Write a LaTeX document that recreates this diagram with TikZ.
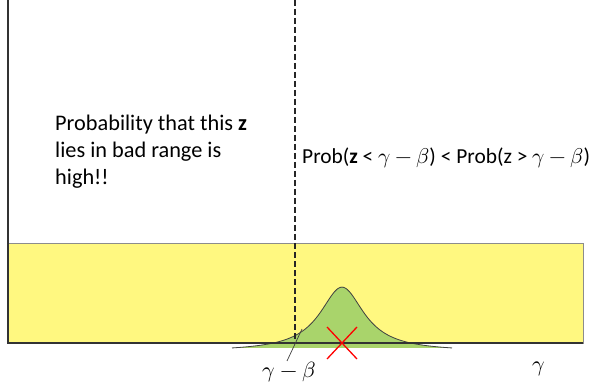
\documentclass[tikz,border=0pt]{standalone}
\usepackage{fontspec}
\setmainfont{Carlito}
\usepackage{unicode-math}
\usetikzlibrary{calc}
\begin{document}
\begin{tikzpicture}[x=1pt,y=-1pt,
  axis/.style={draw=black!80,line width=1.6pt},
  lbl/.style={inner sep=0pt,font=\fontsize{22.3}{27}\selectfont},
  band/.style={fill=yellow!50!white,draw=black!45,line width=1pt},
  curve/.style={draw=black!75,line width=0.8pt},
  cross/.style={draw=red,line width=1.3pt}]
\useasboundingbox (0,0) rectangle (591,387);
\fill[white] (0,0) rectangle (591,387);
% yellow band
\path[band] (8,244) rectangle (583,343);
% gaussian
\path[fill={rgb,255:red,169;green,212;blue,107}]
  plot[domain=232:452,samples=121,smooth] (\x,{348-64.5*(1/(1+((\x-342)/27)^2)-0.056)}) -- cycle;
\draw[curve] plot[domain=232:452,samples=121,smooth] (\x,{348-64.5*(1/(1+((\x-342)/27)^2)-0.056)});
% dashed line
\coordinate (dtop) at (295,0);
\coordinate (dbot) at (295,343);
\draw[dashed,dash pattern=on 6pt off 3pt,line width=1.2pt,black!85] (dtop) -- (dbot);
% axes
\coordinate (o) at (8,343);
\coordinate (ytop) at (8,0);
\coordinate (xend) at (583,343);
\draw[axis] (ytop) -- (o) -- (xend);
% red cross
\coordinate (xc) at (342,343);
\draw[cross] ($(xc)+(-15,-16)$) -- ($(xc)+(15,16)$);
\draw[cross] ($(xc)+(-15,16)$) -- ($(xc)+(15,-16)$);
% labels
\node[lbl,anchor=north west,align=left] (txt) at (55,115) {Probability that this \textbf{z}\\lies in bad range is\\high!!};
\node[lbl,anchor=west,font=\fontsize{21.4}{27}\selectfont] (prob) at (302,158) {Prob(\textbf{z} < $\gamma-\beta$) < Prob(z > $\gamma-\beta$)};
\node[lbl,font=\fontsize{22}{26}\selectfont] (gb) at (289,372) {$\gamma-\beta$};
\node[lbl,font=\fontsize{22}{26}\selectfont] (g) at (539,369) {$\gamma$};
\coordinate (ptr) at (302,329);
\draw[black!75,line width=0.7pt] (287,361) -- (ptr);
\end{tikzpicture}
\end{document}
